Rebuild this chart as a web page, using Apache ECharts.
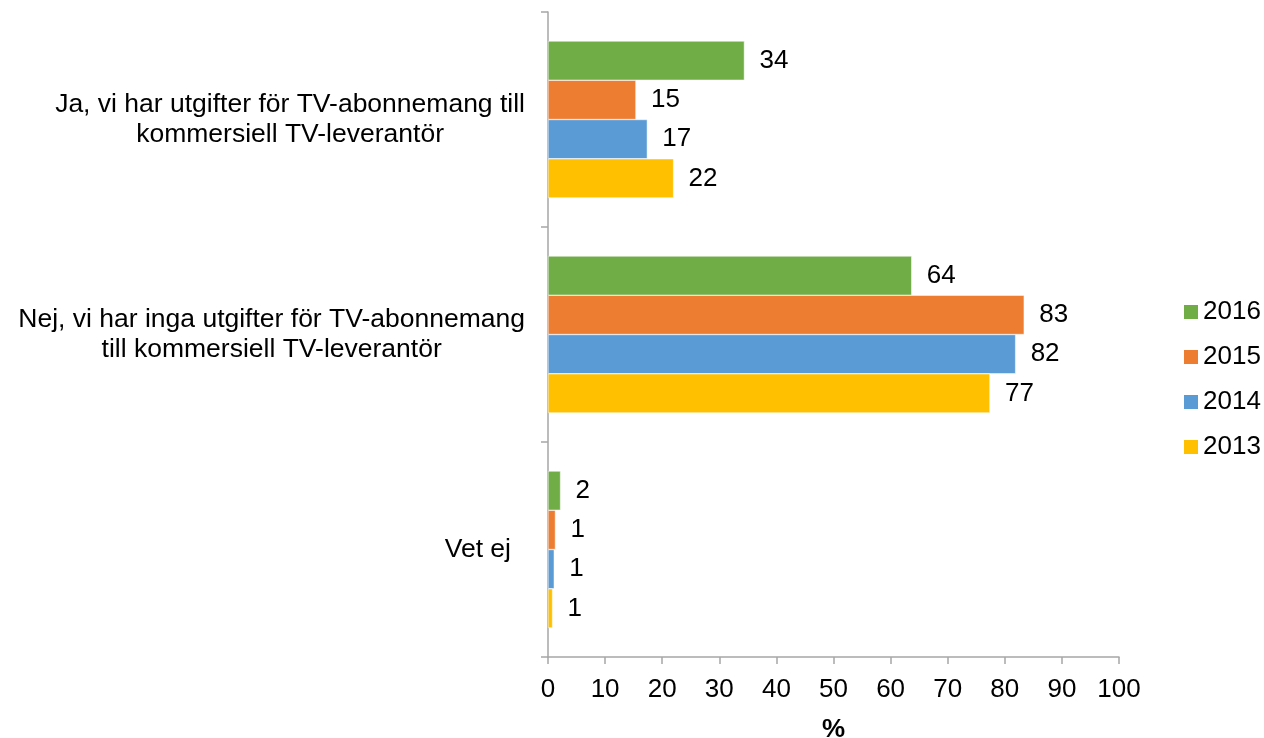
<!DOCTYPE html>
<html>
<head>
<meta charset="utf-8">
<title>TV-abonnemang</title>
<script src="https://cdn.jsdelivr.net/npm/echarts@6/dist/echarts.min.js"></script>
<style>
  html, body { margin: 0; padding: 0; background: #fff; }
  #main { width: 1264px; height: 738px; }
</style>
</head>
<body>
<div id="main"></div>
<script type="text/javascript">
var categories = [
    'Ja, vi har utgifter för TV-abonnemang till\nkommersiell TV-leverantör',
    'Nej, vi har inga utgifter för TV-abonnemang\ntill kommersiell TV-leverantör',
    'Vet ej'
];
var years = ['2016', '2015', '2014', '2013'];
var v2016 = [34.4, 63.7, 2.2];
var v2015 = [15.4, 83.4, 1.3];
var v2014 = [17.4, 81.9, 1.1];
var v2013 = [22.0, 77.4, 0.8];
var colors = ['#70AD47', '#ED7D31', '#5B9BD5', '#FFC000'];

var font = 'Liberation Sans, Arial, sans-serif';
var myChart = echarts.init(document.getElementById('main'));

function makeSeries(name, data, color) {
    return {
        name: name,
        type: 'bar',
        data: data,
        barGap: '0%',
        barCategoryGap: '27%',
        itemStyle: { color: color, borderColor: '#fff', borderWidth: 0.5 },
        label: {
            show: true,
            position: 'right',
            distance: 15,
            color: '#000',
            fontFamily: font,
            fontSize: 26,
            formatter: function (p) { return Math.round(p.value); }
        }
    };
}

var option = {
    animation: false,
    backgroundColor: '#fff',
    grid: { left: 548, right: 145, top: 12, bottom: 81, outerBoundsMode: 'none', containLabel: false },
    legend: {
        orient: 'vertical',
        left: 1184,
        top: 299,
        padding: 0,
        itemWidth: 14,
        itemHeight: 14,
        itemGap: 19,
        icon: 'rect',
        itemStyle: { borderWidth: 0 },
        textStyle: { fontFamily: font, fontSize: 26, color: '#000' },
        data: years
    },
    xAxis: {
        type: 'value',
        min: 0,
        max: 100,
        interval: 10,
        name: '%',
        nameLocation: 'middle',
        nameGap: 60,
        nameTextStyle: { fontFamily: font, fontSize: 26, fontWeight: 'bold', color: '#000' },
        axisLine: { show: true, lineStyle: { color: '#A6A6A6', width: 1.5 } },
        axisTick: { show: true, length: 7, lineStyle: { color: '#A6A6A6', width: 1.5 } },
        axisLabel: { margin: 20, fontFamily: font, fontSize: 26, color: '#000' },
        splitLine: { show: false }
    },
    yAxis: {
        type: 'category',
        inverse: true,
        data: categories,
        axisLine: { show: true, lineStyle: { color: '#A6A6A6', width: 1.5 } },
        axisTick: { show: true, length: 7, lineStyle: { color: '#A6A6A6', width: 1.5 } },
        axisLabel: {
            margin: 23,
            formatter: function (v) {
                var lines = v.split('\n');
                if (lines.length === 1) return '{v|' + v + '}';
                return lines.map(function (l) { return '{c|' + l + '}'; }).join('\n');
            },
            rich: {
                c: { align: 'center', fontFamily: font, fontSize: 26.5, color: '#000', lineHeight: 30 },
                v: { fontFamily: font, fontSize: 26.5, color: '#000', padding: [0, 14, 0, 0] }
            }
        }
    },
    series: [
        makeSeries(years[0], v2016, colors[0]),
        makeSeries(years[1], v2015, colors[1]),
        makeSeries(years[2], v2014, colors[2]),
        makeSeries(years[3], v2013, colors[3])
    ]
};

myChart.setOption(option);
</script>
</body>
</html>
